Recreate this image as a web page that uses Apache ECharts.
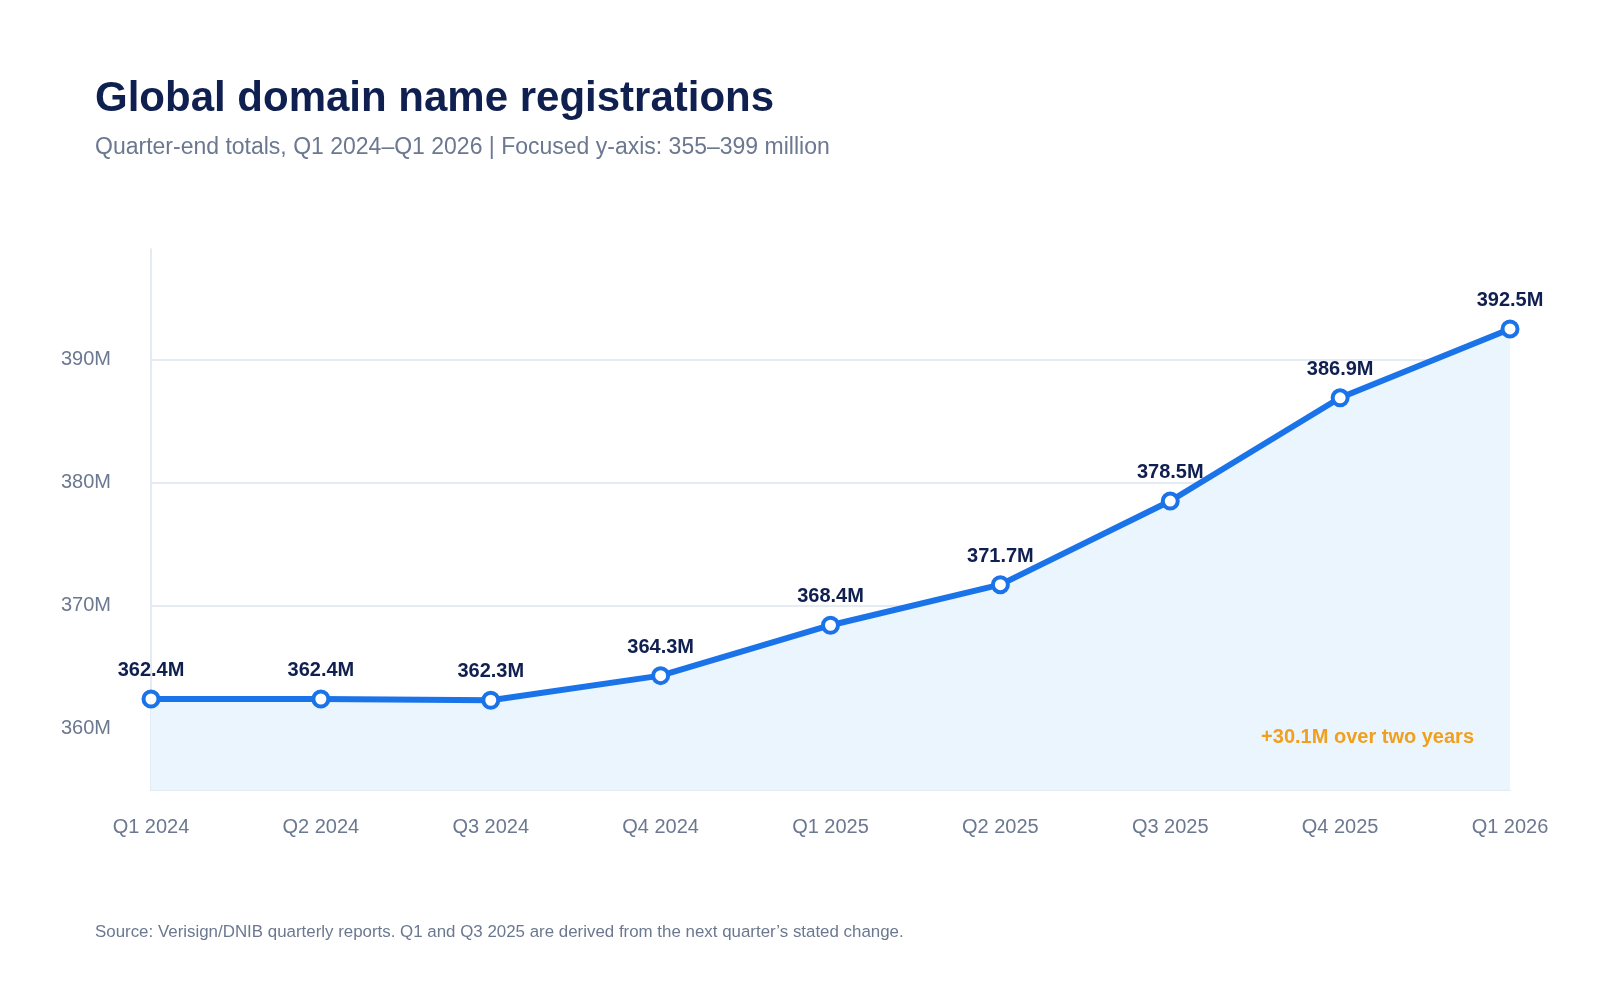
<!DOCTYPE html>
<html>
<head>
<meta charset="utf-8">
<script src="https://cdn.jsdelivr.net/npm/echarts@6/dist/echarts.min.js"></script>
<style>
html,body{margin:0;padding:0;background:#fff;}
#c{width:1600px;height:1000px;}
</style>
</head>
<body>
<div id="c"></div>
<script>
const categories = ['Q1 2024','Q2 2024','Q3 2024','Q4 2024','Q1 2025','Q2 2025','Q3 2025','Q4 2025','Q1 2026'];
const registrations = [362.4, 362.4, 362.3, 364.3, 368.4, 371.7, 378.5, 386.9, 392.5];
const yTicks = [360, 370, 380, 390];

const chart = echarts.init(document.getElementById('c'));
const FONT = 'Liberation Sans, Arial, sans-serif';
chart.setOption({
  backgroundColor: '#ffffff',
  animation: false,
  title: [
    { text: 'Global domain name registrations', left: 90, top: 73,
      textStyle: { fontFamily: FONT, fontSize: 42, fontWeight: 'bold', color: '#0f1f4f' } },
    { text: 'Quarter-end totals, Q1 2024\u2013Q1 2026 | Focused y-axis: 355\u2013399 million', left: 90, top: 131,
      textStyle: { fontFamily: FONT, fontSize: 23, fontWeight: 'normal', color: '#6b7890' } },
    { text: 'Source: Verisign/DNIB quarterly reports. Q1 and Q3 2025 are derived from the next quarter\u2019s stated change.', left: 90, top: 919,
      textStyle: { fontFamily: FONT, fontSize: 16.9, fontWeight: 'normal', color: '#6b7890' } }
  ],
  grid: { left: 151, right: 90, top: 249, bottom: 210 },
  xAxis: {
    type: 'category', data: categories, boundaryGap: false,
    axisLine: { show: true, lineStyle: { color: '#dde5ee', width: 1.5 } },
    axisTick: { show: false },
    axisLabel: { margin: 27, fontFamily: FONT, fontSize: 20, color: '#6b7890' }
  },
  yAxis: {
    type: 'value', min: 355, max: 399,
    axisLine: { show: true, lineStyle: { color: '#dde5ee', width: 1.5 } },
    axisTick: { show: false, customValues: yTicks },
    axisLabel: { customValues: yTicks, margin: 40, fontFamily: FONT, fontSize: 20, color: '#6b7890',
      formatter: v => v + 'M' },
    splitLine: { show: true, lineStyle: { color: '#dde5ee', width: 1.5 } }
  },
  series: [{
    type: 'line', data: registrations,
    symbol: 'circle', symbolSize: 15,
    lineStyle: { color: '#1a73e8', width: 6 },
    itemStyle: { color: '#ffffff', borderColor: '#1a73e8', borderWidth: 4 },
    areaStyle: { color: '#eaf5fe', origin: 'start', opacity: 1 },
    label: { show: true, position: 'top', distance: 9, fontFamily: FONT, fontSize: 20, fontWeight: 'bold', color: '#0f1f4f',
      formatter: p => p.value.toFixed(1) + 'M' },
    z: 3
  }],
  graphic: [{
    type: 'text', right: 126, top: 727, z: 100,
    style: { text: '+30.1M over two years', fontFamily: FONT, fontSize: 20, fontWeight: 'bold', fill: '#f0a01e' }
  }]
});
</script>
</body>
</html>
